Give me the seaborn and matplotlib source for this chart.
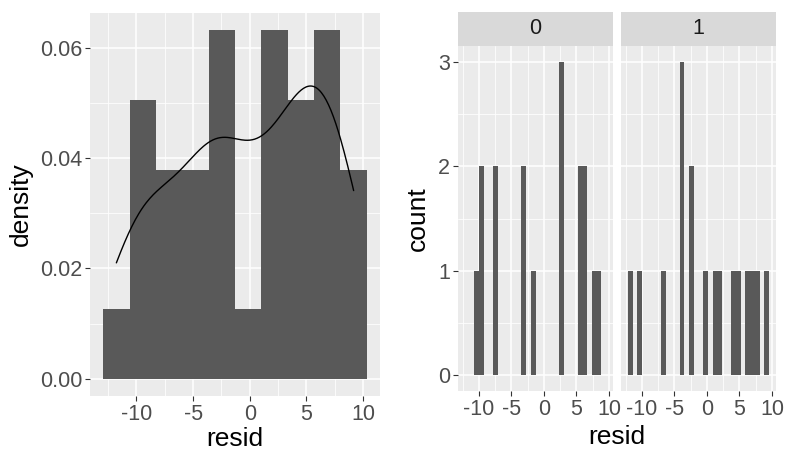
import numpy as np
import pandas as pd
import matplotlib
matplotlib.use("Agg")
import matplotlib.pyplot as plt
import seaborn as sns
from matplotlib.ticker import MultipleLocator, FormatStrFormatter

# ---- data (residuals) ----
resid_group0 = [-10.2, -9.7, -9.5, -7.5, -7.3, -3.2, -3.0, -1.4,
                2.6, 2.7, 2.9, 5.5, 5.65, 6.3, 6.5, 7.9, 8.7]
resid_group1 = [-11.77, -10.05, -6.7, -3.9, -3.8, -3.7, -2.5, -2.3, 0.1,
                1.1, 2.0, 4.4, 5.1, 6.4, 7.2, 8.05, 9.17]
group_labels = ["0", "1"]
x_ticks = [-10, -5, 0, 5, 10]
density_ticks = [0.00, 0.02, 0.04, 0.06]
count_ticks = [0, 1, 2, 3]

df = pd.DataFrame({
    "resid": resid_group0 + resid_group1,
    "group": [group_labels[0]] * len(resid_group0) + [group_labels[1]] * len(resid_group1),
})

sns.set_theme(style="darkgrid")
plt.rcParams["font.family"] = ["Liberation Sans", "DejaVu Sans"]
plt.rcParams["axes.unicode_minus"] = False

BG = "#EBEBEB"
BAR = "#595959"
TICKC = "#4D4D4D"

W, H = 786, 454
fig = plt.figure(figsize=(W / 100, H / 100), dpi=100)
fig.patch.set_facecolor("white")


def px_axes(x0, y0, x1, y1):
    return fig.add_axes([x0 / W, 1 - y1 / H, (x1 - x0) / W, (y1 - y0) / H])


def gg_bins(values, nbins):
    lo, hi = float(np.min(values)), float(np.max(values))
    w = (hi - lo) / (nbins - 1)
    return lo - w / 2 + np.arange(nbins + 1) * w


def style_axes(ax, xminor, yminor):
    ax.set_facecolor(BG)
    for s in ax.spines.values():
        s.set_visible(False)
    ax.xaxis.set_minor_locator(MultipleLocator(xminor))
    ax.yaxis.set_minor_locator(MultipleLocator(yminor))
    ax.grid(which="major", color="white", linewidth=1.1)
    ax.grid(which="minor", color="white", linewidth=0.55)
    ax.set_axisbelow(True)
    ax.tick_params(which="major", length=3.5, width=0.8, color="#333333",
                   labelsize=15.5, labelcolor=TICKC, pad=2,
                   bottom=True, left=True)
    ax.tick_params(which="minor", length=0)


all_resid = df["resid"].to_numpy()

# ---- left panel: density histogram + kde ----
axL = px_axes(90, 13, 380, 396)
edges10 = gg_bins(all_resid, 10)
sns.histplot(data=df, x="resid", stat="density", bins=edges10, color=BAR,
             alpha=1, linewidth=0, ax=axL)
sd = np.std(all_resid, ddof=1)
iqr = np.subtract(*np.percentile(all_resid, [75, 25]))
nrd0 = 0.9 * min(sd, iqr / 1.34) * len(all_resid) ** (-0.2)
sns.kdeplot(data=df, x="resid", bw_method=nrd0 / sd, cut=0, color="black",
            linewidth=1.0, ax=axL)
span = edges10[-1] - edges10[0]
axL.set_xlim(edges10[0] - 0.05 * span, edges10[-1] + 0.05 * span)
ymax = max(p.get_height() for p in axL.patches)
axL.set_ylim(-0.05 * ymax, ymax * 1.05)
axL.set_xticks(x_ticks)
axL.set_yticks(density_ticks)
axL.yaxis.set_major_formatter(FormatStrFormatter("%.2f"))
style_axes(axL, 2.5, 0.01)
axL.set_xlabel("resid", fontsize=19, color="black", labelpad=2)
axL.set_ylabel("density", fontsize=19, color="black", labelpad=5)

# ---- right panel: faceted count histograms ----
edges30 = gg_bins(all_resid, 30)
span30 = edges30[-1] - edges30[0]
facet_px = [(458, 613), (621, 776)]
axes_r = []
for i, g in enumerate(group_labels):
    x0, x1 = facet_px[i]
    ax = px_axes(x0, 46, x1, 391)
    sns.histplot(data=df[df["group"] == g], x="resid", stat="count", bins=edges30,
                 color=BAR, alpha=1, linewidth=0, ax=ax)
    ax.set_xlim(edges30[0] - 0.05 * span30, edges30[-1] + 0.05 * span30)
    ax.set_ylim(-0.15, 3.15)
    ax.set_xticks(x_ticks)
    ax.set_yticks(count_ticks)
    style_axes(ax, 2.5, 0.5)
    ax.set_xlabel("")
    ax.set_ylabel("")
    if i > 0:
        ax.tick_params(axis="y", which="both", left=False, labelleft=False)
    # strip
    sax = px_axes(x0, 12, x1, 46)
    sax.set_facecolor("#D9D9D9")
    sax.grid(False)
    for s in sax.spines.values():
        s.set_visible(False)
    sax.set_xticks([])
    sax.set_yticks([])
    sax.text(0.5, 0.5, g, ha="center", va="center", fontsize=15.5,
             color="#1A1A1A", transform=sax.transAxes)
    axes_r.append(ax)

axes_r[0].set_ylabel("count", fontsize=19, color="black", labelpad=6)
fig.text((458 + 776) / 2 / W, 1 - 437 / H, "resid", ha="center", va="center",
         fontsize=19, color="black")

fig.savefig("out.png", dpi=100)
